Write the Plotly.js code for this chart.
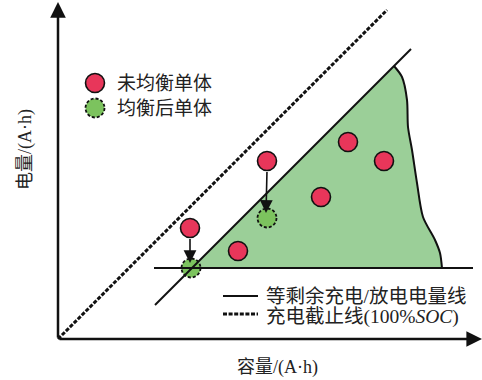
<!DOCTYPE html>
<html>
<head>
<meta charset="utf-8">
<script src="https://cdn.plot.ly/plotly-3.0.1.min.js"></script>
<style>
  html, body { margin: 0; padding: 0; background: #fff; }
  #chart { width: 482px; height: 380px; }
</style>
</head>
<body>
<div id="chart"></div>
<script>
// schematic units: origin at the axis corner
const redX = [132, 180, 209, 263, 290, 326];     // cells before balancing
const redY = [111, 88, 178, 142, 197, 178];
const greenX = [133, 209];                       // cells after balancing
const greenY = [71, 121];
const moveFrom = [0, 2];                         // red cell index moved to green cell

const cutoffX = [0, 329];                        // 100% SOC line
const cutoffY = [0, 329];
const equalX = [97, 353];                        // equal remaining charge/discharge line
const equalY = [34, 290];
const floorX = [96, 415];
const floorY = [71, 71];

const regionX = [134, 336, 344, 349, 350, 354, 359, 365, 377, 382, 384];
const regionY = [71, 273, 262, 239, 212, 189, 156, 122, 99, 86, 71];

const legendText = ["未均衡单体", "均衡后单体"];
const lineText = ["等剩余充电/放电电量线", "充电截止线(100%<i>SOC</i>)"];
const xTitle = "容量/(A·h)";
const yTitle = "电量/(A·h)";

const RED = "#e8365a";
const GREEN = "#7cc35e";
const FILL = "#9bcf98";
const FONT = "Liberation Serif, Noto Sans CJK SC, serif";
const R = 9.5;
const DOTS = "4px,1.6px";

// green region as a path shape
let regionPath = "M" + regionX[0] + "," + regionY[0];
for (let i = 1; i < regionX.length; i++) regionPath += " L" + regionX[i] + "," + regionY[i];
regionPath += " Z";

function dashedCircle(cx, cy) {
  return {
    type: "circle", xref: "x", yref: "y", layer: "below",
    x0: cx - R, x1: cx + R, y0: cy - R, y1: cy + R,
    fillcolor: GREEN, line: { color: "#111", width: 1.8, dash: "3px,2px" }
  };
}

const shapes = [
  { type: "path", xref: "x", yref: "y", layer: "below", path: regionPath,
    fillcolor: FILL, line: { width: 0 } }
];
for (let i = 0; i < greenX.length; i++) shapes.push(dashedCircle(greenX[i], greenY[i]));
shapes.push(dashedCircle(37, 231));

const data = [
  { x: regionX.slice(1), y: regionY.slice(1), mode: "lines",
    line: { color: "#111", width: 2, shape: "spline", smoothing: 0.8 }, hoverinfo: "skip" },
  { x: cutoffX, y: cutoffY, mode: "lines",
    line: { color: "#111", width: 3, dash: DOTS }, hoverinfo: "skip" },
  { x: equalX, y: equalY, mode: "lines", line: { color: "#111", width: 2 }, hoverinfo: "skip" },
  { x: floorX, y: floorY, mode: "lines", line: { color: "#111", width: 2 }, hoverinfo: "skip" },
  // legend samples
  { x: [165, 200], y: [43, 43], mode: "lines", line: { color: "#111", width: 2.2 }, hoverinfo: "skip" },
  { x: [165, 200], y: [25, 25], mode: "lines",
    line: { color: "#111", width: 3, dash: DOTS }, hoverinfo: "skip" },
  { x: redX.concat([37]), y: redY.concat([256]), mode: "markers",
    marker: { size: 19, color: RED, line: { color: "#111", width: 1.6 } }, hoverinfo: "skip" }
];

const annotations = [
  // axes
  { x: 424, y: 0, ax: 0, ay: 0, xref: "x", yref: "y", axref: "x", ayref: "y", text: "",
    showarrow: true, arrowhead: 2, arrowwidth: 2.5, arrowsize: 1.25, arrowcolor: "#111" },
  { x: 0, y: 337, ax: 0, ay: 0, xref: "x", yref: "y", axref: "x", ayref: "y", text: "",
    showarrow: true, arrowhead: 2, arrowwidth: 2.5, arrowsize: 1.25, arrowcolor: "#111" },
  { x: 219, y: -28, xref: "x", yref: "y", text: xTitle, showarrow: false,
    font: { family: FONT, size: 18, color: "#222" } },
  { x: -33, y: 189, xref: "x", yref: "y", text: yTitle, showarrow: false, textangle: -90,
    font: { family: FONT, size: 18, color: "#222" } },
  { x: 57, y: 256, xref: "x", yref: "y", xanchor: "left", text: legendText[0], showarrow: false,
    font: { family: FONT, size: 19, color: "#222" } },
  { x: 57, y: 231, xref: "x", yref: "y", xanchor: "left", text: legendText[1], showarrow: false,
    font: { family: FONT, size: 19, color: "#222" } },
  { x: 206, y: 43, xref: "x", yref: "y", xanchor: "left", text: lineText[0], showarrow: false,
    font: { family: FONT, size: 19.5, color: "#222" } },
  { x: 206, y: 22, xref: "x", yref: "y", xanchor: "left", text: lineText[1], showarrow: false,
    font: { family: FONT, size: 19.5, color: "#222" } }
];

// balancing arrows: red cell down to green cell
for (let i = 0; i < greenX.length; i++) {
  const k = moveFrom[i];
  annotations.push({
    x: greenX[i] - 1, y: greenY[i] + 5, ax: redX[k], ay: redY[k] - R,
    xref: "x", yref: "y", axref: "x", ayref: "y", text: "",
    showarrow: true, arrowhead: 2, arrowwidth: 1.6, arrowsize: 1.6, arrowcolor: "#111"
  });
}

const layout = {
  width: 482, height: 380,
  margin: { l: 0, r: 0, t: 0, b: 0 },
  paper_bgcolor: "#fff", plot_bgcolor: "#fff",
  showlegend: false,
  xaxis: { range: [-58, 424], visible: false, fixedrange: true },
  yaxis: { range: [-41, 339], visible: false, fixedrange: true },
  shapes: shapes,
  annotations: annotations
};

Plotly.newPlot("chart", data, layout, { staticPlot: true });
</script>
</body>
</html>
